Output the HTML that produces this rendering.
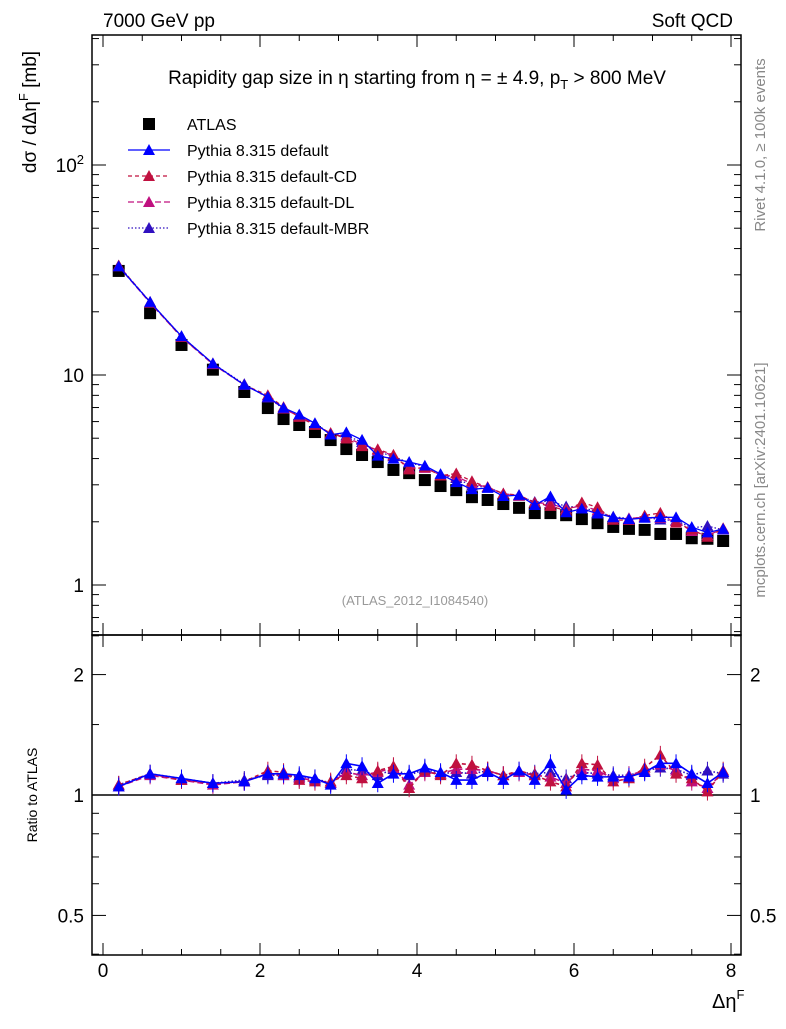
<!DOCTYPE html>
<html><head><meta charset="utf-8"><style>
body{margin:0;background:#fff;}
svg text{font-family:"Liberation Sans",sans-serif;}
</style></head><body>
<svg id="c" width="786" height="1024" xmlns="http://www.w3.org/2000/svg">
<text x="103" y="27" font-size="19">7000 GeV pp</text>
<text x="733" y="27" font-size="19" text-anchor="end">Soft QCD</text>
<rect x="92" y="35" width="649" height="600" fill="none" stroke="#000" stroke-width="1.5"/>
<rect x="92" y="635" width="649" height="320" fill="none" stroke="#000" stroke-width="1.5"/>
<text x="417" y="84" font-size="19" text-anchor="middle">Rapidity gap size in η starting from η = ± 4.9, p<tspan font-size="13" dy="5">T</tspan><tspan dy="-5"> &gt; 800 MeV</tspan></text>
<text x="415" y="605" font-size="13" fill="#999" text-anchor="middle">(ATLAS_2012_I1084540)</text>
<text transform="translate(765,145) rotate(-90)" font-size="15" fill="#888" text-anchor="middle">Rivet 4.1.0, ≥ 100k events</text>
<text transform="translate(765,480) rotate(-90)" font-size="15" fill="#888" text-anchor="middle">mcplots.cern.ch [arXiv:2401.10621]</text>
<text transform="translate(36,112) rotate(-90)" font-size="19" text-anchor="middle">dσ / dΔη<tspan font-size="13" dy="-8">F</tspan><tspan dy="8"> [mb]</tspan></text>
<text transform="translate(37,795) rotate(-90)" font-size="14" text-anchor="middle">Ratio to ATLAS</text>
<text x="712" y="1008" font-size="20">Δη<tspan font-size="13" dy="-9">F</tspan></text>
<g id="axes"></g><g id="marks"></g><g id="legend"></g>
</svg>
<script>
const xs=[0.2,0.6,1.0,1.4,1.8,2.1,2.3,2.5,2.7,2.9,3.1,3.3,3.5,3.7,3.9,4.1,4.3,4.5,4.7,4.9,5.1,5.3,5.5,5.7,5.9,6.1,6.3,6.5,6.7,6.9,7.1,7.3,7.5,7.7,7.9];
const atlas=[31.3,19.7,13.9,10.6,8.3,6.96,6.17,5.78,5.35,4.9,4.44,4.16,3.85,3.53,3.41,3.16,2.96,2.83,2.62,2.54,2.43,2.33,2.2,2.2,2.15,2.06,1.97,1.89,1.85,1.83,1.75,1.75,1.67,1.66,1.62];
const rDefault=[1.05,1.13,1.10,1.07,1.08,1.13,1.13,1.12,1.10,1.06,1.20,1.18,1.07,1.13,1.13,1.17,1.14,1.09,1.09,1.14,1.09,1.15,1.09,1.20,1.03,1.12,1.11,1.11,1.11,1.14,1.20,1.20,1.13,1.07,1.14];
const rCD=[1.06,1.13,1.09,1.07,1.08,1.15,1.14,1.09,1.08,1.08,1.12,1.10,1.15,1.18,1.04,1.15,1.12,1.20,1.19,1.15,1.12,1.15,1.12,1.08,1.05,1.20,1.19,1.08,1.10,1.17,1.26,1.13,1.10,1.02,1.15];
const rDL=[1.05,1.12,1.09,1.06,1.08,1.13,1.12,1.10,1.09,1.07,1.14,1.12,1.14,1.17,1.06,1.14,1.13,1.16,1.16,1.15,1.12,1.14,1.12,1.11,1.07,1.16,1.15,1.10,1.12,1.15,1.19,1.15,1.08,1.04,1.14];
const rMBR=[1.06,1.13,1.10,1.07,1.09,1.12,1.12,1.11,1.10,1.07,1.16,1.15,1.12,1.16,1.12,1.16,1.13,1.14,1.13,1.15,1.12,1.14,1.13,1.14,1.10,1.14,1.13,1.12,1.12,1.15,1.17,1.16,1.12,1.15,1.13];
const xTicks=[0,2,4,6,8];
const yTicks=[1,10,100];
const rTicks=[0.5,1,2];
const NS="http://www.w3.org/2000/svg";
const X=v=>103+v*78.5;
const Y=v=>585-Math.log10(v)*210;
const R=v=>795-Math.log10(v)*400;
function mk(t,a,p){const e=document.createElementNS(NS,t);for(const k in a)e.setAttribute(k,a[k]);p.appendChild(e);return e;}
const ax=document.getElementById('axes'),mg=document.getElementById('marks'),lg=document.getElementById('legend');
for(let v=0;v<=8.01;v+=0.5){const maj=Math.abs(v/2-Math.round(v/2))<1e-6;const L=maj?12:6;
 for(const [y0,d] of [[635,-1],[35,1],[955,-1],[635,1]]){const l=mk('line',{x1:X(v),x2:X(v),y1:y0,y2:y0+d*L,stroke:'#000'},ax);}}
xTicks.forEach(v=>{const t=mk('text',{x:X(v),y:977,'font-size':19,'text-anchor':'middle'},ax);t.textContent=v;});
for(let d=-1;d<=2;d++)for(let m=1;m<10;m++){const v=m*Math.pow(10,d);const y=Y(v);if(y<35||y>635)continue;const L=m==1?14:7;
 mk('line',{x1:92,x2:92+L,y1:y,y2:y,stroke:'#000'},ax);mk('line',{x1:741,x2:741-L,y1:y,y2:y,stroke:'#000'},ax);}
yTicks.forEach(v=>{const t=mk('text',{x:84,y:Y(v)+7,'font-size':19,'text-anchor':'end'},ax);
 if(v==100){t.textContent='10';const s=mk('tspan',{'font-size':13,dy:-8},t);s.textContent='2';}else t.textContent=v;});
[0.4,0.5,0.6,0.7,0.8,0.9,1,1.5,2,2.5].forEach(v=>{const y=R(v);if(y<635||y>955)return;const L=(v==0.5||v==1||v==2)?14:7;
 mk('line',{x1:92,x2:92+L,y1:y,y2:y,stroke:'#000'},ax);mk('line',{x1:741,x2:741-L,y1:y,y2:y,stroke:'#000'},ax);});
rTicks.forEach(v=>{const lab=String(v);[[84,'end'],[750,'start']].forEach(([x,a])=>{const t=mk('text',{x:x,y:R(v)+7,'font-size':19,'text-anchor':a},ax);t.textContent=lab;});});
const one=mk('line',{x1:92,x2:741,y1:R(1),y2:R(1),stroke:'#000','stroke-width':1.5},ax);

function tri(x,y,c,s){return mk('polygon',{points:`${x},${y-s} ${x-s},${y+s*0.8} ${x+s},${y+s*0.8}`,fill:c},mg);}
const series=[
 {name:'Pythia 8.315 default',r:rDefault,c:'#0000ff',dash:''},
 {name:'Pythia 8.315 default-CD',r:rCD,c:'#c0103f',dash:'4,3'},
 {name:'Pythia 8.315 default-DL',r:rDL,c:'#c0107f',dash:'6,3'},
 {name:'Pythia 8.315 default-MBR',r:rMBR,c:'#3010c0',dash:'1.5,2'}];
atlas.forEach((v,i)=>{const r=mk('rect',{x:X(xs[i])-6,y:Y(v)-6,width:12,height:12,fill:'#000'},mg);});
series.slice().reverse().forEach(s=>{
 const mp=xs.map((x,i)=>`${X(x)},${Y(atlas[i]*s.r[i])}`).join(' ');
 const l1=mk('polyline',{points:mp,fill:'none',stroke:s.c,'stroke-width':1.3,'stroke-dasharray':s.dash},mg);
 
 const rp=xs.map((x,i)=>`${X(x)},${R(s.r[i])}`).join(' ');
 const l2=mk('polyline',{points:rp,fill:'none',stroke:s.c,'stroke-width':1.6,'stroke-dasharray':s.dash},mg);
 
 xs.forEach((x,i)=>{const t=tri(X(x),Y(atlas[i]*s.r[i]),s.c,6);
  const e=mk('line',{x1:X(x),x2:X(x),y1:R(s.r[i])-9,y2:R(s.r[i])+9,stroke:s.c},mg);
  const t2=tri(X(x),R(s.r[i]),s.c,6);});
});
const ly0=124;
const ar=mk('rect',{x:143,y:ly0-6,width:12,height:12,fill:'#000'},lg);
const at=mk('text',{x:187,y:ly0+6,'font-size':16},lg);at.textContent='ATLAS';
series.forEach((s,k)=>{const y=ly0+26*(k+1);
 const l=mk('line',{x1:128,x2:170,y1:y,y2:y,stroke:s.c,'stroke-width':1.3,'stroke-dasharray':s.dash},lg);
 const p=mk('polygon',{points:`149,${y-6} 143,${y+5} 155,${y+5}`,fill:s.c},lg);
 const t=mk('text',{x:187,y:y+6,'font-size':16},lg);t.textContent=s.name;});
</script>
</body></html>
